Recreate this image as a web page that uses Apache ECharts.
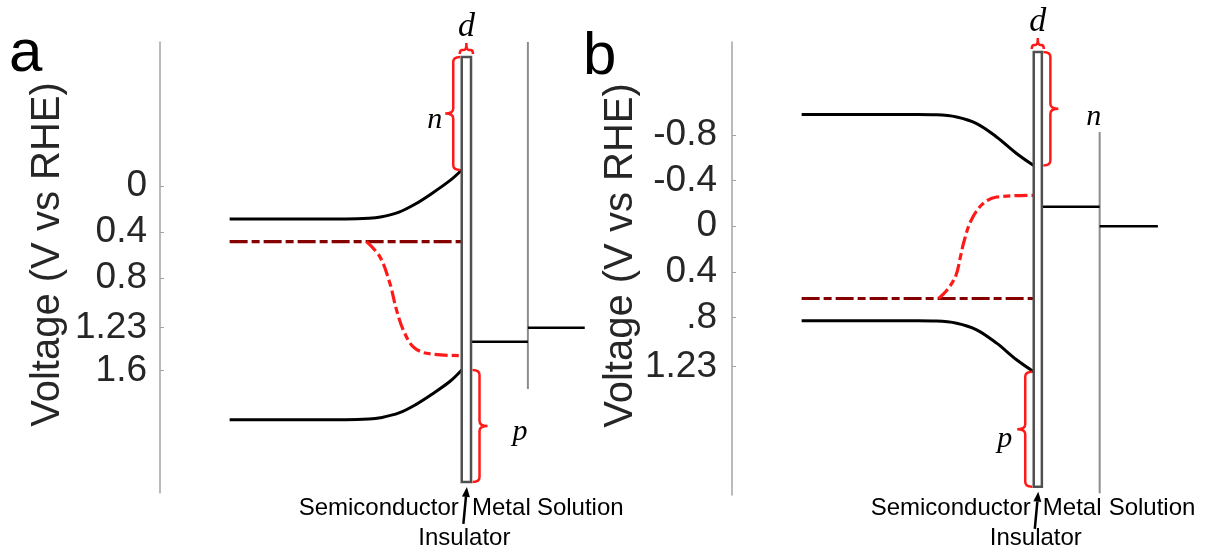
<!DOCTYPE html>
<html>
<head>
<meta charset="utf-8">
<script src="https://cdn.jsdelivr.net/npm/echarts@6/dist/echarts.min.js"></script>
<style>
  html, body { margin: 0; padding: 0; background: #fff; }
  #chart { width: 1209px; height: 552px; }
</style>
</head>
<body>
<div id="chart"></div>
<script>
// ---- Axis ticks ----
const tickValuesA = [0, 0.4, 0.8, 1.23, 1.6];
const tickLabelsA = ['0', '0.4', '0.8', '1.23', '1.6'];
const tickValuesB = [-0.8, -0.4, 0, 0.4, 0.8, 1.23];
const tickLabelsB = ['-0.8', '-0.4', '0', '0.4', '.8', '1.23'];

// ---- Panel a: band diagram (position, V vs RHE) ----
const condBandA = [[0, 0.285], [50, 0.285], [60, 0.279], [65, 0.268], [73, 0.225], [80, 0.155], [87, 0.065], [95, -0.05], [100, -0.141]];
const valBandA = [[0, 2.03], [50, 2.03], [60, 2.024], [65, 2.012], [73, 1.97], [80, 1.90], [87, 1.81], [95, 1.695], [100, 1.597]];
const fermiA = [[0, 0.482], [100, 0.482]];
const quasiFermiA = [[59, 0.482], [64.7, 0.612], [69, 0.841], [71.9, 1.075], [74.8, 1.249], [79, 1.394], [84.8, 1.452], [100, 1.473]];
const metalA = [[104, 1.351], [128.5, 1.351]];
const solutionA = [[128.5, 1.23], [153, 1.23]];
const wallA = [[128.5, -1.253], [128.5, 1.762]];
const insulatorA = [[100, 104, -1.123, 2.57]];        // x from, x to, top V, bottom V
const bracesA = [[100, -1.123, -0.141, -1], [104, 1.597, 2.57, 1]]; // edge x, V from, V to, side
const braceLabelsA = ['n', 'p'];
const dBraceA = [[100, 104, -1.123]];

// ---- Panel b ----
const condBandB = [[0, -0.977], [50, -0.977], [58, -0.975], [66.8, -0.956], [75.4, -0.898], [84, -0.781], [92.6, -0.636], [100, -0.53]];
const valBandB = [[0, 0.828], [50, 0.828], [58, 0.83], [66.8, 0.849], [75.4, 0.907], [84, 1.024], [92.6, 1.169], [100, 1.274]];
const fermiB = [[0, 0.633], [100, 0.633]];
const quasiFermiB = [[59, 0.633], [63, 0.55], [66.5, 0.43], [68.5, 0.26], [70, 0.13], [73, -0.05], [78, -0.195], [84, -0.255], [100, -0.27]];
const metalB = [[103.5, -0.169], [128.4, -0.169]];
const solutionB = [[128.4, 0], [153.5, 0]];
const wallB = [[128.4, -0.825], [128.4, 2.338]];
const insulatorB = [[100, 103.5, -1.524, 2.281]];
const bracesB = [[103.5, -1.524, -0.53, 1], [100, 1.274, 2.281, -1]];
const braceLabelsB = ['n', 'p'];
const dBraceB = [[100, 103.5, -1.524]];

const SANS = '"Liberation Sans", Arial, Helvetica, sans-serif';
const SERIF = '"Liberation Serif", "DejaVu Serif", serif';
const TEXT = '#262626';
const AXIS_GRAY = '#a3a3a3';
const RED = '#ff1a1a';
const DARK_RED = '#870000';

// label placement relative to the brace tip, per panel
const braceLabelStyleA = [
  { dx: -3, dy: 7, align: 'right' },
  { dx: 25, dy: 6, align: 'left' }
];
const braceLabelStyleB = [
  { dx: 28, dy: 8, align: 'left' },
  { dx: -5, dy: 10, align: 'right' }
];

function makeBraceRenderer(labels, styles) {
  return function (params, api) {
    const edge = api.value(0), v1 = api.value(1), v2 = api.value(2), side = api.value(3);
    const p1 = api.coord([edge, v1]);
    const p2 = api.coord([edge, v2]);
    const xe = p1[0] + side * 1.5;
    const xb = xe + side * 7;
    const xt = xe + side * 15;
    const y1 = p1[1], y2 = p2[1], ym = (y1 + y2) / 2, r = 5;
    const d = 'M' + xe + ' ' + y1 +
      ' Q' + xb + ' ' + y1 + ' ' + xb + ' ' + (y1 + r) +
      ' L' + xb + ' ' + (ym - r) +
      ' Q' + xb + ' ' + ym + ' ' + xt + ' ' + ym +
      ' Q' + xb + ' ' + ym + ' ' + xb + ' ' + (ym + r) +
      ' L' + xb + ' ' + (y2 - r) +
      ' Q' + xb + ' ' + y2 + ' ' + xe + ' ' + y2;
    const st = styles[params.dataIndex];
    return {
      type: 'group',
      children: [
        { type: 'path', shape: { pathData: d }, style: { stroke: RED, lineWidth: 2.5, fill: null } },
        {
          type: 'text',
          style: {
            text: labels[params.dataIndex], x: xt + st.dx, y: ym + st.dy,
            fontFamily: SERIF, fontStyle: 'italic', fontSize: 30, fill: '#000',
            align: st.align, verticalAlign: 'middle'
          }
        }
      ]
    };
  };
}

function renderDBrace(params, api) {
  const a = api.coord([api.value(0), api.value(2)]);
  const b = api.coord([api.value(1), api.value(2)]);
  const x0 = a[0] - 2, x1 = b[0] + 2, xm = (x0 + x1) / 2;
  const ye = a[1] - 3, yb = a[1] - 7, yt = a[1] - 14, r = 2.5;
  const d = 'M' + x0 + ' ' + ye +
    ' Q' + x0 + ' ' + yb + ' ' + (x0 + r) + ' ' + yb +
    ' L' + (xm - r) + ' ' + yb +
    ' Q' + xm + ' ' + yb + ' ' + xm + ' ' + yt +
    ' Q' + xm + ' ' + yb + ' ' + (xm + r) + ' ' + yb +
    ' L' + (x1 - r) + ' ' + yb +
    ' Q' + x1 + ' ' + yb + ' ' + x1 + ' ' + ye;
  return {
    type: 'group',
    children: [
      { type: 'path', shape: { pathData: d }, style: { stroke: RED, lineWidth: 2.5, fill: null } },
      {
        type: 'text',
        style: {
          text: 'd', x: xm, y: yt + 1, fontFamily: SERIF, fontStyle: 'italic',
          fontSize: 34, fill: '#000', align: 'center', verticalAlign: 'bottom'
        }
      }
    ]
  };
}

function renderInsulator(params, api) {
  const a = api.coord([api.value(0), api.value(2)]);
  const b = api.coord([api.value(1), api.value(3)]);
  return {
    type: 'rect',
    shape: { x: a[0], y: a[1], width: b[0] - a[0], height: b[1] - a[1] },
    style: { fill: '#fff', stroke: '#505050', lineWidth: 2.5 }
  };
}

function yAxisFor(gridIndex, min, max, values, labels, gap, margin) {
  return {
    gridIndex: gridIndex, type: 'value', inverse: true, min: min, max: max,
    name: 'Voltage (V vs RHE)', nameLocation: 'middle', nameGap: gap, nameRotate: 90,
    nameTextStyle: { fontFamily: SANS, fontSize: 40, color: TEXT, padding: [0, 0, 0, 26] },
    axisLine: { show: true, onZero: false, lineStyle: { color: AXIS_GRAY, width: 1.5 } },
    axisTick: { show: true, inside: true, length: 4, customValues: values, lineStyle: { color: AXIS_GRAY, width: 1 } },
    axisLabel: {
      show: true, customValues: values, margin: margin,
      fontFamily: SANS, fontSize: 37, color: TEXT,
      formatter: function (v) { return labels[values.indexOf(v)]; }
    },
    splitLine: { show: false }
  };
}

function lineSeries(gi, data, color, width, type, smooth) {
  return {
    type: 'line', xAxisIndex: gi, yAxisIndex: gi, data: data,
    showSymbol: false, symbol: 'none', smooth: smooth ? 0.35 : false,
    lineStyle: { color: color, width: width, type: type || 'solid', cap: 'butt' },
    silent: true, z: 3
  };
}

function panelSeries(gi, d) {
  return [
    lineSeries(gi, d.wall, '#8c8c8c', 2),
    lineSeries(gi, d.fermi, DARK_RED, 3.2, [18, 4, 8, 4]),
    lineSeries(gi, d.quasi, RED, 3.2, [13, 4, 7, 4], true),
    lineSeries(gi, d.cb, '#000', 3, 'solid', true),
    lineSeries(gi, d.vb, '#000', 3, 'solid', true),
    lineSeries(gi, d.metal, '#000', 2.5),
    lineSeries(gi, d.solution, '#000', 2.5),
    { type: 'custom', xAxisIndex: gi, yAxisIndex: gi, data: d.insulator, renderItem: renderInsulator, clip: false, z: 4, silent: true },
    { type: 'custom', xAxisIndex: gi, yAxisIndex: gi, data: d.braces, renderItem: makeBraceRenderer(d.braceLabels, d.braceStyles), clip: false, z: 5, silent: true },
    { type: 'custom', xAxisIndex: gi, yAxisIndex: gi, data: d.dBrace, renderItem: renderDBrace, clip: false, z: 5, silent: true }
  ];
}

const chart = echarts.init(document.getElementById('chart'), null, { renderer: 'canvas' });

const option = {
  animation: false,
  backgroundColor: '#fff',
  grid: [
    { left: 160, top: 42, width: 441, height: 451, outerBoundsMode: 'none', containLabel: false },
    { left: 732, top: 42, width: 441, height: 453, outerBoundsMode: 'none', containLabel: false }
  ],
  xAxis: [
    { gridIndex: 0, type: 'value', min: -30, max: 160, show: false },
    { gridIndex: 1, type: 'value', min: -30, max: 160, show: false }
  ],
  yAxis: [
    yAxisFor(0, -1.253, 2.666, tickValuesA, tickLabelsA, 92, 13),
    yAxisFor(1, -1.612, 2.353, tickValuesB, tickLabelsB, 88, 15)
  ],
  series: [].concat(
    panelSeries(0, {
      wall: wallA, fermi: fermiA, quasi: quasiFermiA, cb: condBandA, vb: valBandA,
      metal: metalA, solution: solutionA, insulator: insulatorA,
      braces: bracesA, braceLabels: braceLabelsA, braceStyles: braceLabelStyleA, dBrace: dBraceA
    }),
    panelSeries(1, {
      wall: wallB, fermi: fermiB, quasi: quasiFermiB, cb: condBandB, vb: valBandB,
      metal: metalB, solution: solutionB, insulator: insulatorB,
      braces: bracesB, braceLabels: braceLabelsB, braceStyles: braceLabelStyleB, dBrace: dBraceB
    })
  )
};
chart.setOption(option);

// Region captions under each diagram, placed from the insulator and wall positions
function regionGraphics(gi, insulator, wall) {
  const ins = insulator[0];
  const left = chart.convertToPixel({ gridIndex: gi }, [ins[0], ins[3]]);
  const right = chart.convertToPixel({ gridIndex: gi }, [ins[1], ins[3]]);
  const wallPx = chart.convertToPixel({ gridIndex: gi }, [wall[0][0], 0])[0];
  const cx = (left[0] + right[0]) / 2;
  const bottom = left[1];
  const capY = 508;
  const txt = (s, x, y, align) => ({
    type: 'text', silent: true,
    style: { text: s, x: x, y: y, fontFamily: SANS, fontSize: 24, fill: '#000', align: align, verticalAlign: 'middle' }
  });
  const tipX = cx + 0.5, tipY = bottom + 5, tailX = cx - 3, tailY = bottom + 42;
  const ang = Math.atan2(tipY - tailY, tipX - tailX);
  const hl = 10, hw = 4;
  const bx = tipX - hl * Math.cos(ang), by = tipY - hl * Math.sin(ang);
  const nx = -Math.sin(ang) * hw, ny = Math.cos(ang) * hw;
  return [
    txt('Semiconductor', left[0] - 3, capY, 'right'),
    txt('Metal', right[0] + 1, capY, 'left'),
    txt('Solution', wallPx + 9, capY, 'left'),
    txt('Insulator', cx - 2, capY + 30, 'center'),
    { type: 'line', silent: true, shape: { x1: tailX, y1: tailY, x2: bx, y2: by }, style: { stroke: '#000', lineWidth: 2.5 } },
    { type: 'polygon', silent: true, shape: { points: [[tipX, tipY], [bx + nx, by + ny], [bx - nx, by - ny]] }, style: { fill: '#000' } }
  ];
}

const panelLetters = [
  { type: 'text', silent: true, style: { text: 'a', x: 9, y: 84, fontFamily: SANS, fontSize: 60, fill: '#000', align: 'left', verticalAlign: 'bottom' } },
  { type: 'text', silent: true, style: { text: 'b', x: 583, y: 87, fontFamily: SANS, fontSize: 60, fill: '#000', align: 'left', verticalAlign: 'bottom' } }
];

chart.setOption({
  graphic: [].concat(panelLetters, regionGraphics(0, insulatorA, wallA), regionGraphics(1, insulatorB, wallB))
});
</script>
</body>
</html>
